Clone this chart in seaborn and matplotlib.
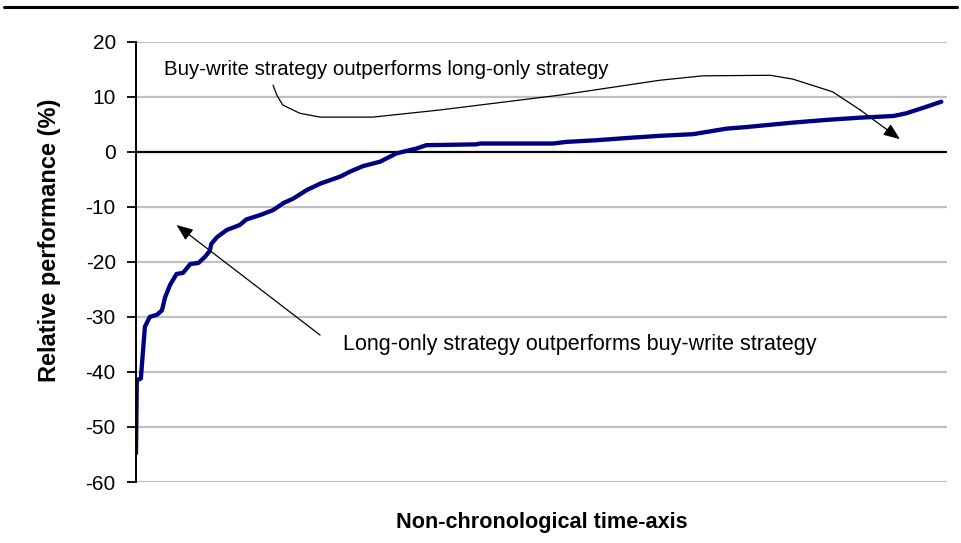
import matplotlib
matplotlib.use("Agg")
import matplotlib.pyplot as plt
from matplotlib.lines import Line2D
import seaborn as sns
import pandas as pd

# Sorted (non-chronological) relative performance, buy-write minus long-only (%)
position = [0.0, 0.1, 0.6, 1.1, 1.7, 2.6, 3.2, 3.6, 4.2, 5.0, 5.8, 6.7, 7.7, 8.5,
            9.1, 9.3, 10.0, 11.2, 12.8, 13.6, 15.3, 16.9, 18.2, 19.4, 21.0, 22.7,
            25.2, 26.4, 28.0, 30.1, 32.1, 34.6, 35.8, 42.0, 42.4, 51.4, 53.1,
            56.8, 60.5, 64.6, 68.7, 72.8, 75.3, 81.0, 85.2, 89.3, 93.4, 95.0,
            97.5, 99.3]
relative_perf = [-54.8, -41.5, -41.2, -31.8, -30.0, -29.6, -28.8, -26.4, -24.2,
                 -22.2, -22.0, -20.4, -20.2, -19.1, -18.0, -16.7, -15.5, -14.2,
                 -13.3, -12.3, -11.5, -10.6, -9.3, -8.5, -7.0, -5.8, -4.5, -3.6,
                 -2.6, -1.8, -0.3, 0.6, 1.2, 1.35, 1.5, 1.5, 1.8, 2.1, 2.5, 2.9,
                 3.2, 4.2, 4.5, 5.3, 5.8, 6.2, 6.5, 7.0, 8.2, 9.1]
y_ticks = [20, 10, 0, -10, -20, -30, -40, -50, -60]

df = pd.DataFrame({"position": position, "relative": relative_perf})

sns.set_style("white")
plt.rcParams["font.family"] = ["Liberation Sans", "DejaVu Sans"]
plt.rcParams["axes.unicode_minus"] = False
plt.rcParams["text.color"] = "black"
plt.rcParams["axes.labelcolor"] = "black"
plt.rcParams["ytick.color"] = "black"

fig = plt.figure(figsize=(9.61, 5.43), dpi=100)
ax = fig.add_axes([0.1415, 0.1123, 0.8439, 0.8109])

# gridlines
for t in y_ticks:
    if t == 0:
        continue
    ax.axhline(t, color="#c0c0c0", lw=1.6, zorder=0)
ax.axhline(0, color="black", lw=1.6, zorder=1)

sns.lineplot(data=df, x="position", y="relative", ax=ax, color="#000080",
             lw=3.1, zorder=3)

ax.set_xlim(0, 100)
ax.set_ylim(-60, 20)
ax.set_yticks(y_ticks)
ax.set_xticks([])
ax.tick_params(axis="y", direction="out", length=6.5, width=1.3, color="black",
               labelsize=15, pad=8, left=True)
for s in ["top", "right", "bottom"]:
    ax.spines[s].set_visible(False)
ax.spines["left"].set_color("black")
ax.spines["left"].set_linewidth(1.4)
ax.spines["left"].set_zorder(4)

ax.set_ylabel("Relative performance (%)", fontsize=17, fontweight="bold")
ax.yaxis.set_label_coords(-0.093, 0.548)
ax.set_xlabel("Non-chronological time-axis", fontsize=15.6, fontweight="bold")
ax.xaxis.set_label_coords(0.5, -0.068)

arrow_style = dict(arrowstyle="-|>,head_length=1.0,head_width=0.4",
                   color="black", lw=0.9, shrinkA=0, shrinkB=0,
                   mutation_scale=10)

# Annotation 1
ax.text(3.4, 14.9, "Buy-write strategy outperforms long-only strategy",
        fontsize=14.7, ha="left", va="center")
curve_x = [16.9, 17.4, 18.1, 20.2, 22.7, 29.2, 37.5, 52.3, 64.6, 69.9, 78.2,
           81.0, 85.9, 89.3]
curve_y = [12.1, 10.2, 8.5, 7.0, 6.3, 6.3, 7.6, 10.3, 13.0, 13.8, 13.9, 13.2,
           10.9, 7.6]
ax.plot(curve_x, curve_y, color="black", lw=0.9, zorder=5)
ax.annotate("", xy=(94.2, 2.3), xytext=(89.3, 7.6), arrowprops=arrow_style,
            zorder=5)

# Annotation 2
ax.text(25.5, -35.1, "Long-only strategy outperforms buy-write strategy",
        fontsize=15.5, ha="left", va="center")
ax.annotate("", xy=(5.0, -13.3), xytext=(22.7, -33.3), arrowprops=arrow_style,
            zorder=5)

# top rule
fig.add_artist(Line2D([0.004, 0.996], [0.987, 0.987], color="black", lw=2.2,
                      transform=fig.transFigure))

fig.savefig("out.png", dpi=100)
